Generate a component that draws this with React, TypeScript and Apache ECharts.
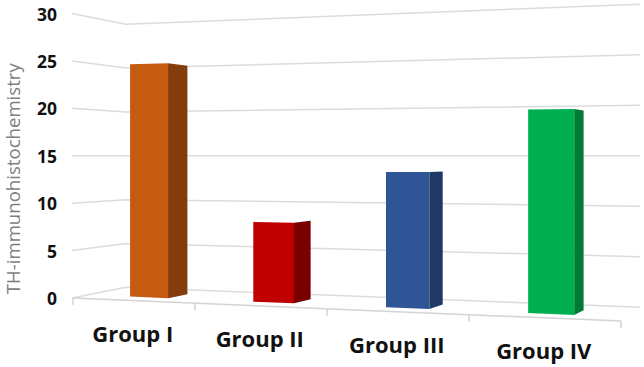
import React, { useEffect, useRef } from "react";
import * as echarts from "echarts";

const categories = ["Group I", "Group II", "Group III", "Group IV"];
const groupValues = [24.75, 8.2, 13.4, 19.4];
const yTicks = [0, 5, 10, 15, 20, 25, 30];
const frontColors = ["#C55A11", "#C00000", "#2F5597", "#00B050"];
const sideColors = ["#843C0C", "#7A0000", "#203864", "#007A37"];

const GRID_LEFT = 73;
const GRID_WIDTH = 548;
const GRID_TOP = 13.5;
const GRID_HEIGHT = 284.5;
const HORIZON = 156;
const CORNER_X = 126;
const RIGHT_X = 640;

// Perspective: category position t (0..4) maps non-uniformly on the floor's front edge.
const persX = (t: number) => 73 + 117 * t + 5 * t * t;
// Vertical scale about the horizon for each depth plane.
const yAt = (y: number, s: number) => HORIZON + (y - HORIZON) * s;
const wallScale = (x: number) => 0.925 + ((x - CORNER_X) / (RIGHT_X - CORNER_X)) * 0.14;
const edgeScale = (x: number) => 1 + (x - 72) * 0.000296;
const barFrontScale = (x: number) => 0.996 + (x - 150) * 0.00029;
const barBackScale = (x: number) => 0.973 + (x - 187.5) * 0.000285;

const pt = (x: number, y: number, f: (x: number) => number) => [x, yAt(y, f(x))];

const renderGrid = (_p: any, api: any) => {
  const y = api.coord([0, api.value(1)])[1];
  return {
    type: "polyline",
    shape: {
      points: [
        [72, y],
        [CORNER_X, yAt(y, wallScale(CORNER_X))],
        [RIGHT_X, yAt(y, wallScale(RIGHT_X))],
      ],
    },
    style: { stroke: "#DCDCDC", lineWidth: 1.5, fill: "none" },
  };
};

const renderFloor = (_p: any, api: any) => {
  const y0 = api.coord([0, 0])[1];
  const children: any[] = [];
  const a = persX(0);
  const b = persX(categories.length);
  children.push({
    type: "line",
    shape: { x1: a, y1: yAt(y0, edgeScale(a)), x2: b, y2: yAt(y0, edgeScale(b)) },
    style: { stroke: "#D4D4D4", lineWidth: 1.5 },
  });
  for (let i = 0; i <= categories.length; i++) {
    const x = persX(i);
    const y = yAt(y0, edgeScale(x));
    children.push({
      type: "line",
      shape: { x1: x, y1: y, x2: x, y2: y + 7 },
      style: { stroke: "#D4D4D4", lineWidth: 1.5 },
    });
  }
  categories.forEach((label, i) => {
    const x = persX(i + 0.5);
    children.push({
      type: "text",
      style: {
        text: label,
        x,
        y: yAt(y0, edgeScale(x)) + 32,
        align: "center",
        verticalAlign: "middle",
        fill: "#111111",
        font: 'bold 22px "Open Sans"',
      },
    });
  });
  return { type: "group", children };
};

const renderBar = (p: any, api: any) => {
  const i = api.value(0);
  const top = api.coord([i, api.value(1)])[1];
  const base = api.coord([i, 0])[1];
  const cx = api.coord([i, 0])[0];
  const t = (cx - p.coordSys.x) / (p.coordSys.width / categories.length) - 0.5;
  const xL = persX(t + 0.478 - 0.027 * t);
  const xR = persX(t + 0.786 - 0.029 * t);
  const xS = persX(t + 0.94 - 0.06 * t);
  return {
    type: "group",
    children: [
      {
        type: "polygon",
        shape: { points: [pt(xR, top, barFrontScale), pt(xS, top, barBackScale), pt(xS, base, barBackScale), pt(xR, base, barFrontScale)] },
        style: { fill: sideColors[i] },
      },
      {
        type: "polygon",
        shape: { points: [pt(xL, top, barFrontScale), pt(xR, top, barFrontScale), pt(xR, base, barFrontScale), pt(xL, base, barFrontScale)] },
        style: { fill: frontColors[i] },
      },
    ],
  };
};

export default function App() {
  const ref = useRef<HTMLDivElement>(null);
  useEffect(() => {
    document.body.style.margin = "0";
    const chart = echarts.init(ref.current!, undefined, { renderer: "svg" });
    chart.setOption({
      animation: false,
      backgroundColor: "#fff",
      grid: { left: GRID_LEFT, top: GRID_TOP, width: GRID_WIDTH, height: GRID_HEIGHT, outerBoundsMode: "none" },
      xAxis: {
        type: "category",
        data: categories,
        axisLine: { show: false },
        axisTick: { show: false },
        axisLabel: { show: false },
      },
      yAxis: {
        type: "value",
        min: 0,
        max: 30,
        interval: 5,
        name: "TH-immunohistochemistry",
        nameLocation: "middle",
        nameRotate: 90,
        nameGap: 51,
        nameTextStyle: {
          color: "#7F7F7F",
          fontSize: 18.6,
          fontFamily: "Open Sans",
          padding: [0, 46, 0, 0],
        },
        axisLine: { show: false },
        axisTick: { show: false },
        splitLine: { show: false },
        axisLabel: {
          color: "#111111",
          fontSize: 17.5,
          fontWeight: "bold",
          fontFamily: "Open Sans",
          margin: 16,
          padding: [2, 0, 0, 0],
        },
      },
      series: [
        { type: "custom", silent: true, clip: false, renderItem: renderGrid, data: yTicks.map((v) => [0, v]), encode: { x: 0, y: 1 } },
        { type: "custom", silent: true, clip: false, renderItem: renderFloor, data: [[0, 0]], encode: { x: 0, y: 1 } },
        { type: "custom", silent: true, clip: false, renderItem: renderBar, data: groupValues.map((v, i) => [i, v]), encode: { x: 0, y: 1 } },
      ],
    });
    return () => chart.dispose();
  }, []);
  return <div ref={ref} style={{ width: 644, height: 367 }} />;
}
